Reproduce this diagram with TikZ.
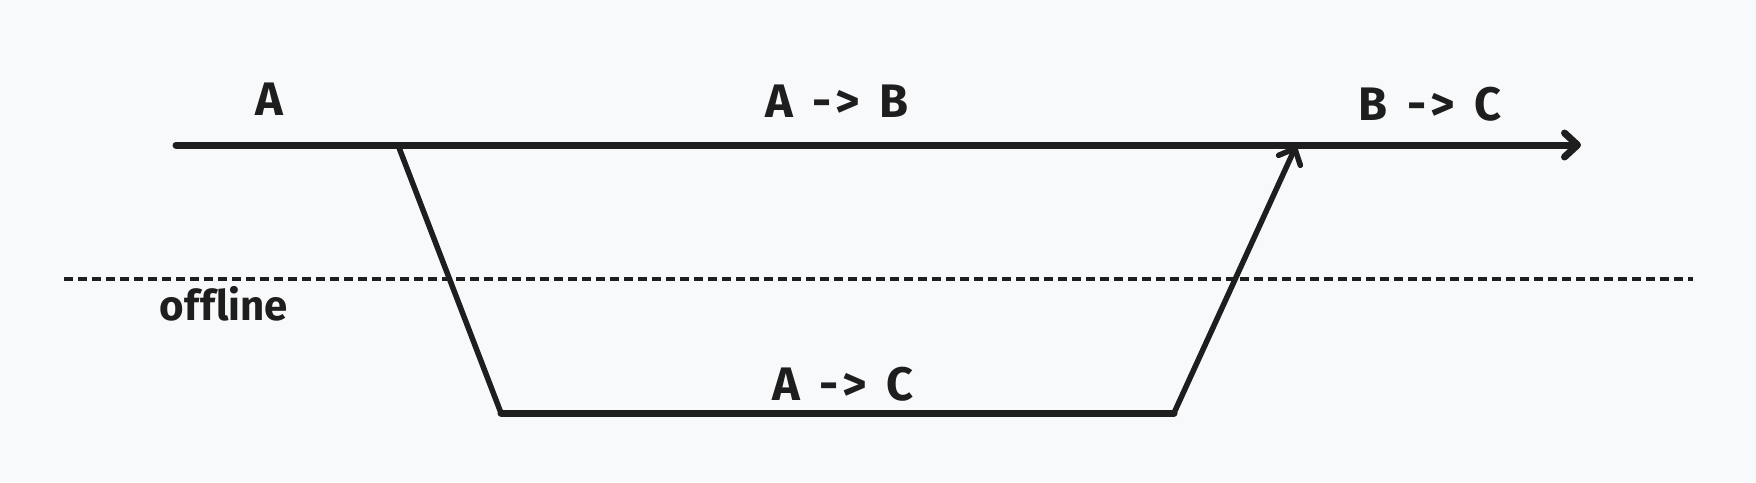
\documentclass[tikz,border=0pt]{standalone}
\usepackage{fontspec}
\setmainfont{Fira Sans}[Ligatures={NoCommon}]
\usetikzlibrary{arrows.meta,positioning}
\definecolor{ink}{HTML}{1E1E1E}
\definecolor{paper}{HTML}{F8F9FA}
\newcommand{\goesto}{\hspace{0.42em}-\kern4pt>\hspace{0.42em}}

\begin{document}
\begin{tikzpicture}[x=1pt,y=-1pt,
  timeline/.style={draw=ink,line width=7pt,line cap=round},
  branch/.style={draw=ink,line width=5.5pt,line cap=round},
  offline/.style={draw=ink,line width=3.4pt,dash pattern=on 9pt off 5pt},
  tag/.style={text=ink,font=\fontsize{47}{52}\selectfont\bfseries,inner sep=0pt},
  barb/.style={-{Straight Barb[length=13pt,width=24pt,line cap=round,line join=round]}}]
\fill[paper] (0,0) rectangle (1756,482);
\useasboundingbox (0,0) rectangle (1756,482);
% points on the main line
\coordinate (start) at (176,145);
\coordinate (fork) at (398,145);
\coordinate (merge) at (1296,146);
\coordinate (stop) at (1581,145);
% offline branch
\coordinate (down) at (501,413);
\coordinate (up) at (1174,413);
\coordinate (offleft) at (64,279);
\coordinate (offright) at (1693,279);

\draw[offline] (offleft) -- (offright);
\draw[timeline,barb] (start) -- (stop);
\draw[branch] (fork) -- (down);
\draw[timeline] (down) -- (up);
\draw[branch,barb] (up) -- (merge);

\node[tag] (stateA) at (269,99) {A};
\node[tag] (stateAB) at (837,101) {A\goesto B};
\node[tag] (stateBC) at (1430,104) {B\goesto C};
\node[tag] (stateAC) at (843,384) {A\goesto C};
\node[tag,font=\fontsize{42}{48}\selectfont\bfseries] (offlbl) at (224,304) {of\kern1ptf\kern1ptline};
\end{tikzpicture}
\end{document}
